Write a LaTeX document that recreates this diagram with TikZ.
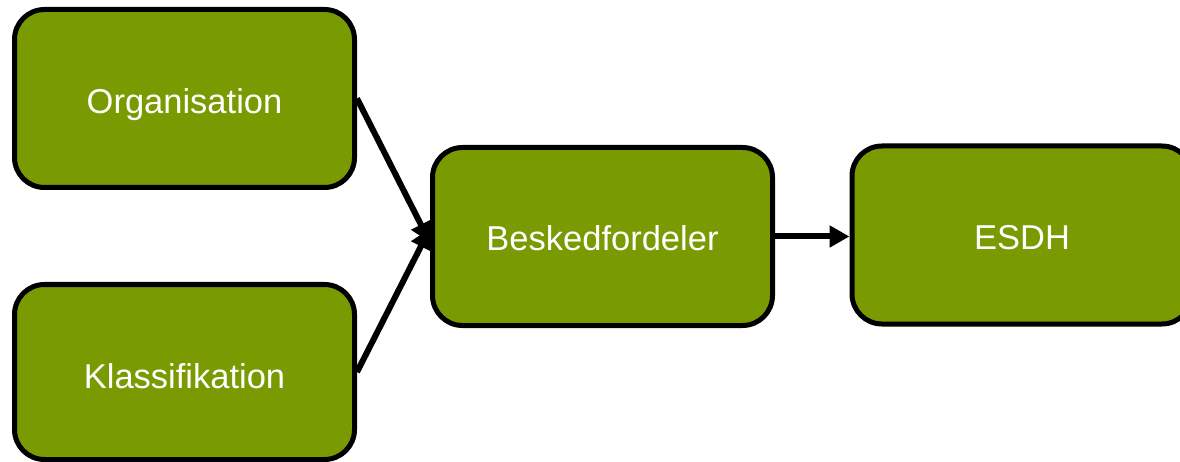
\documentclass[tikz,border=0pt]{standalone}
\usepackage{fontspec}
\setmainfont{Liberation Sans}
\usetikzlibrary{arrows.meta}
\definecolor{boxgreen}{HTML}{7A9A01}
\newcommand{\lowtext}[2]{\raisebox{-#1}[\height][\depth]{#2}}
\begin{document}
\begin{tikzpicture}[x=1pt,y=-1pt,
  box/.style={draw=black, line width=5pt, fill=boxgreen, rounded corners=30pt,
    minimum width=340pt, minimum height=178pt, inner sep=0pt, text=white,
    font=\fontsize{34.5}{40}\selectfont},
  conn/.style={line width=6pt, -{Triangle[length=20pt,width=21pt]}}]
\useasboundingbox (0,0) rectangle (1180,462);
\node[box] (org) at (184.5,98.5) {\lowtext{6pt}{Organisation}};
\node[box, minimum height=175pt] (kla) at (184.5,372) {\lowtext{4pt}{Klassifikation}};
\node[box] (bes) at (602.5,236.5) {\lowtext{2pt}{Beskedfordeler}};
\node[box] (esdh) at (1022,235) {\lowtext{3pt}{ESDH}};
\coordinate (b1) at ([yshift=-6pt]bes.west);
\coordinate (b2) at ([yshift=8pt]bes.west);
\draw[conn] (org.east) -- (b1);
\draw[conn] (kla.east) -- (b2);
\draw[conn] (bes.east) -- (esdh.west |- bes.east);
\end{tikzpicture}
\end{document}
